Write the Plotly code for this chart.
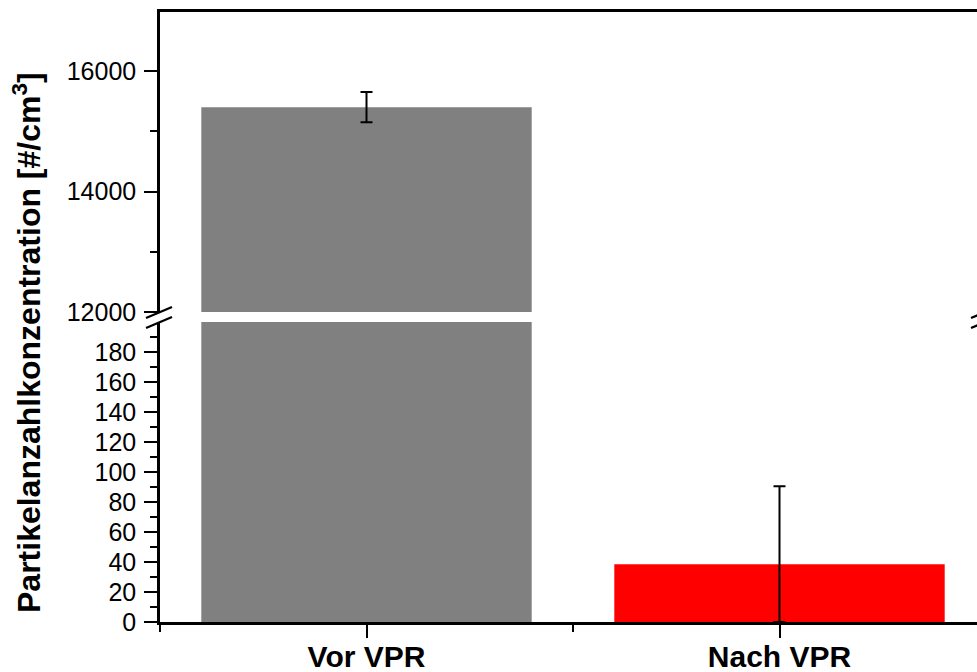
import plotly.graph_objects as go

# Data
categories = ["Vor VPR", "Nach VPR"]
values = [15400, 38.5]
errors_plus = [250, 52]
errors_minus = [250, 38.5]
bar_colors = ["#808080", "#ff0000"]

lower_ticks = list(range(0, 181, 20))
lower_minor = list(range(10, 191, 20))
upper_ticks = [12000, 14000, 16000]
upper_labels = ["12000", "14000", "16000"]
upper_minor = [13000, 15000]

lower_range = [0, 200]
upper_range = [12000, 16980]

W, H = 977, 672
ML, MR, MT, MB = 160, 0, 12, 50
plot_h = H - MT - MB
plot_w = W - ML - MR

# pixel rows of the two panels (from top of page)
lower_top_px = 322
upper_bottom_px = 312
lower_dom = [0, (H - MB - lower_top_px) / plot_h]
upper_dom = [(H - MB - upper_bottom_px) / plot_h, 1]

FONT = "Liberation Sans, Arial, sans-serif"
xpos = list(range(len(categories)))

fig = go.Figure()

# lower panel bars
for i in xpos:
    fig.add_trace(go.Bar(
        x=[i], y=[values[i]], width=0.8, marker=dict(color=bar_colors[i], line=dict(width=0)),
        error_y=dict(type="data", array=[errors_plus[i]], arrayminus=[errors_minus[i]],
                     visible=(i == 1), color="black", thickness=2, width=6),
        xaxis="x", yaxis="y", showlegend=False, hoverinfo="skip"))

# upper panel bars
for i in xpos:
    fig.add_trace(go.Bar(
        x=[i], y=[values[i]], width=0.8, marker=dict(color=bar_colors[i], line=dict(width=0)),
        error_y=dict(type="data", array=[errors_plus[i]], arrayminus=[errors_minus[i]],
                     visible=(i == 0), color="black", thickness=2, width=6),
        xaxis="x2", yaxis="y2", showlegend=False, hoverinfo="skip"))

xr = [-0.5, -0.5 + plot_w / 413.0]

axis_common = dict(showline=True, linecolor="black", linewidth=2.5, ticks="outside",
                   tickcolor="black", tickwidth=2, ticklen=13, showgrid=False, zeroline=False,
                   automargin=False, ticklabelstandoff=3,
                   tickfont=dict(family=FONT, size=25, color="black"))

fig.update_layout(
    width=W, height=H,
    margin=dict(l=ML, r=MR, t=MT, b=MB, pad=0),
    paper_bgcolor="white", plot_bgcolor="white",
    barmode="overlay",
    xaxis=dict(domain=[0, 1], range=xr, anchor="y", automargin=False,
               showline=True, linecolor="black", linewidth=2.5, ticks="outside",
               tickcolor="black", tickwidth=2, ticklen=13, showgrid=False, zeroline=False,
               tickmode="array", tickvals=xpos, ticktext=categories, ticklabelstandoff=-7,
               tickfont=dict(family=FONT, size=30, color="black", weight="bold"),
               minor=dict(tickmode="array", tickvals=[-0.5, 0.5, 1.5], ticks="outside",
                          ticklen=7, tickwidth=2, tickcolor="black", showgrid=False)),
    xaxis2=dict(domain=[0, 1], range=xr, anchor="y2", matches="x", side="top",
                automargin=False, showline=True, linecolor="black", linewidth=2.5, ticks="",
                showticklabels=False, showgrid=False, zeroline=False),
    yaxis=dict(domain=lower_dom, range=lower_range, anchor="x",
               tickmode="array", tickvals=lower_ticks,
               minor=dict(tickmode="array", tickvals=lower_minor, ticks="outside",
                          ticklen=7, tickwidth=2, tickcolor="black", showgrid=False),
               **axis_common),
    yaxis2=dict(domain=upper_dom, range=upper_range, anchor="x2",
                tickmode="array", tickvals=upper_ticks, ticktext=upper_labels,
                minor=dict(tickmode="array", tickvals=upper_minor, ticks="outside",
                           ticklen=7, tickwidth=2, tickcolor="black", showgrid=False),
                **axis_common),
)

# axis title
fig.add_annotation(
    text="Partikelanzahlkonzentration [#/cm<sup>3</sup>]",
    xref="paper", yref="paper",
    x=-(ML - 27) / plot_w, y=(H - MB - 343) / plot_h,
    xanchor="center", yanchor="middle", textangle=-90, showarrow=False,
    font=dict(family=FONT, size=32, color="black", weight="bold"))

# break marks on the left and right axes
y_up = upper_dom[0]
y_lo = lower_dom[1]
for xa in [0.0, (985 - ML) / plot_w]:
    for ya in [y_up, y_lo]:
        fig.add_shape(type="line", xref="paper", yref="paper",
                      xsizemode="pixel", ysizemode="pixel",
                      xanchor=xa, yanchor=ya,
                      x0=-14, y0=-6, x1=12, y1=5,
                      line=dict(color="black", width=2.2))

fig.write_html("out.html")
